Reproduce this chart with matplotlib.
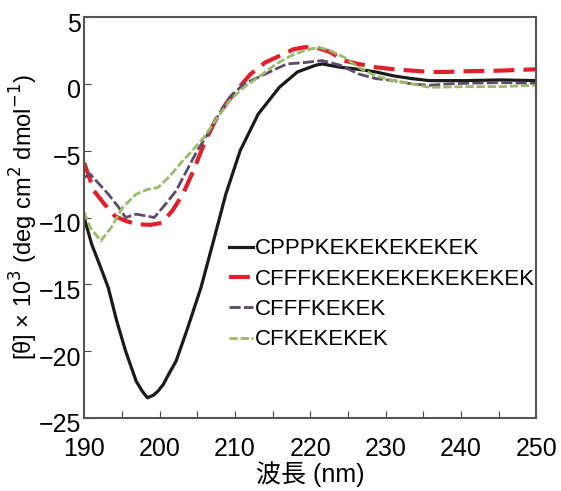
import matplotlib
matplotlib.use("Agg")
import matplotlib.pyplot as plt
import matplotlib.transforms as mtransforms

plt.rcParams['font.family'] = ['Liberation Sans', 'Noto Sans CJK JP', 'DejaVu Sans']

# wavelength (nm) and ellipticity values
wl_a = [190, 191, 192.2, 193.2, 194.3, 195.5, 196.9, 197.7, 198.4, 199.2, 199.8, 200.5, 201.2,
        202.2, 203.6, 205.5, 207.4, 208.8, 210.7, 213.1, 215.9, 218.3, 220.7, 221.6, 224,
        226.4, 228.7, 231.1, 233.5, 235.8, 238.2, 240.6, 245.3, 250]
cppp = [-10, -12, -13.75, -15.25, -17.7, -20, -22.25, -23, -23.5, -23.3, -23, -22.5, -21.75,
        -20.75, -18.5, -15.25, -11.25, -8.25, -5, -2.25, -0.25, 0.9, 1.4, 1.5, 1.25,
        1.1, 0.9, 0.6, 0.4, 0.25, 0.25, 0.25, 0.3, 0.25]

wl_b = [190, 191.3, 192.7, 194.1, 195.5, 196.9, 198.8, 200.3, 201.7, 203.1, 204.5, 205.9,
        207.4, 208.8, 210.2, 212.1, 214, 215.9, 217.8, 219.2, 220.7, 222.6, 224.5, 226.4,
        228.7, 231.1, 233.5, 235.8, 238.2, 240.6, 245.3, 250]
cfff_long = [-5.9, -8, -9, -9.9, -10.25, -10.5, -10.55, -10.4, -9.5, -8.25, -6.5, -4.5,
             -2.75, -1.5, -0.5, 0.75, 1.6, 2.1, 2.6, 2.75, 2.75, 2.4, 1.75, 1.5,
             1.25, 1.1, 1.0, 0.9, 0.9, 0.95, 1.0, 1.1]

wl_c = [190, 190.8, 193.2, 194.6, 195.5, 196.9, 198.4, 199.3, 200.8, 202.2, 203.6, 205,
        206.4, 207.9, 209.3, 211.2, 213.1, 215, 216.9, 219.2, 221.6, 224, 226.4, 228.7,
        231.1, 233.5, 235.8, 238.2, 240.6, 245.3, 250]
cfff_short = [-7, -6.75, -8.25, -9.25, -10, -9.75, -9.9, -10, -9, -8, -6.5, -5,
              -3.75, -2.25, -1, 0, 0.5, 1, 1.5, 1.6, 1.75, 1.4, 0.75, 0.4,
              0.25, 0, -0.1, 0, 0.05, 0.1, 0.05]

wl_d = [190, 190.8, 192.2, 193.6, 195.1, 196.9, 198.4, 199.8, 201.2, 203.1, 204.5, 205.9,
        207.4, 209.3, 211.2, 213.1, 215.5, 217.4, 219.2, 221.1, 222.6, 224.5, 226.4, 228.7,
        231.1, 233.5, 235.8, 240.6, 245.3, 250]
cfke = [-9.6, -10.75, -11.75, -10.75, -9.25, -8.25, -7.9, -7.75, -7, -5.75, -4.9, -4,
        -2.75, -1.25, -0.25, 0.5, 1.5, 2.1, 2.5, 2.75, 2.5, 2, 1.25, 0.6,
        0.25, 0, -0.25, -0.2, -0.2, -0.1]

labels = ['CPPPKEKEKEKEKEK', 'CFFFKEKEKEKEKEKEKEK', 'CFFFKEKEK', 'CFKEKEKEK']
xticks = list(range(190, 251, 5))
xticklabels = [str(t) if t % 10 == 0 else '' for t in xticks]
yticks = [5, 0, -5, -10, -15, -20, -25]

fig = plt.figure(figsize=(5.61, 4.91), dpi=100)
ax = fig.add_axes([0.150, 0.149, 0.806, 0.816])

ax.plot(wl_a, cppp, color='#1a1a1a', lw=2.3, label=labels[0])
ax.plot(wl_b, cfff_long, color='#e0202a', lw=3, dashes=(5, 2.2), label=labels[1])
ax.plot(wl_c, cfff_short, color='#5b4a6b', lw=2, dashes=(4, 1.2), label=labels[2])
ax.plot(wl_d, cfke, color='#9bbb6a', lw=2, dashes=(3, 1), label=labels[3])

ax.set_xlim(190, 250)
ax.set_ylim(-25, 5)
ax.set_xticks(xticks, xticklabels)
ax.set_yticks(yticks)
ax.tick_params(direction='in', length=5, labelsize=18, top=False, right=False, color='#444444')
ax.tick_params(axis='x', pad=14)
ax.tick_params(axis='y', pad=2)
for s in ax.spines.values():
    s.set_color('#555555')
    s.set_linewidth(1.5)

# y tick labels sit a little below their ticks in the original
shift = mtransforms.ScaledTranslation(0, -5 / 100, fig.dpi_scale_trans)
for lab in ax.get_yticklabels():
    lab.set_transform(lab.get_transform() + shift)

ax.set_xlabel('波長 (nm)', fontsize=18, labelpad=0)
ax.set_ylabel('[θ] × 10$^3$ (deg cm$^2$ dmol$^{-1}$)', fontsize=17, labelpad=-1)

ax.legend(loc='upper left', bbox_to_anchor=(0.30, 0.47), frameon=False, fontsize=16,
          handlelength=1.1, handletextpad=0.08, labelspacing=0.42, borderaxespad=0)

fig.savefig('out.png', dpi=100)
